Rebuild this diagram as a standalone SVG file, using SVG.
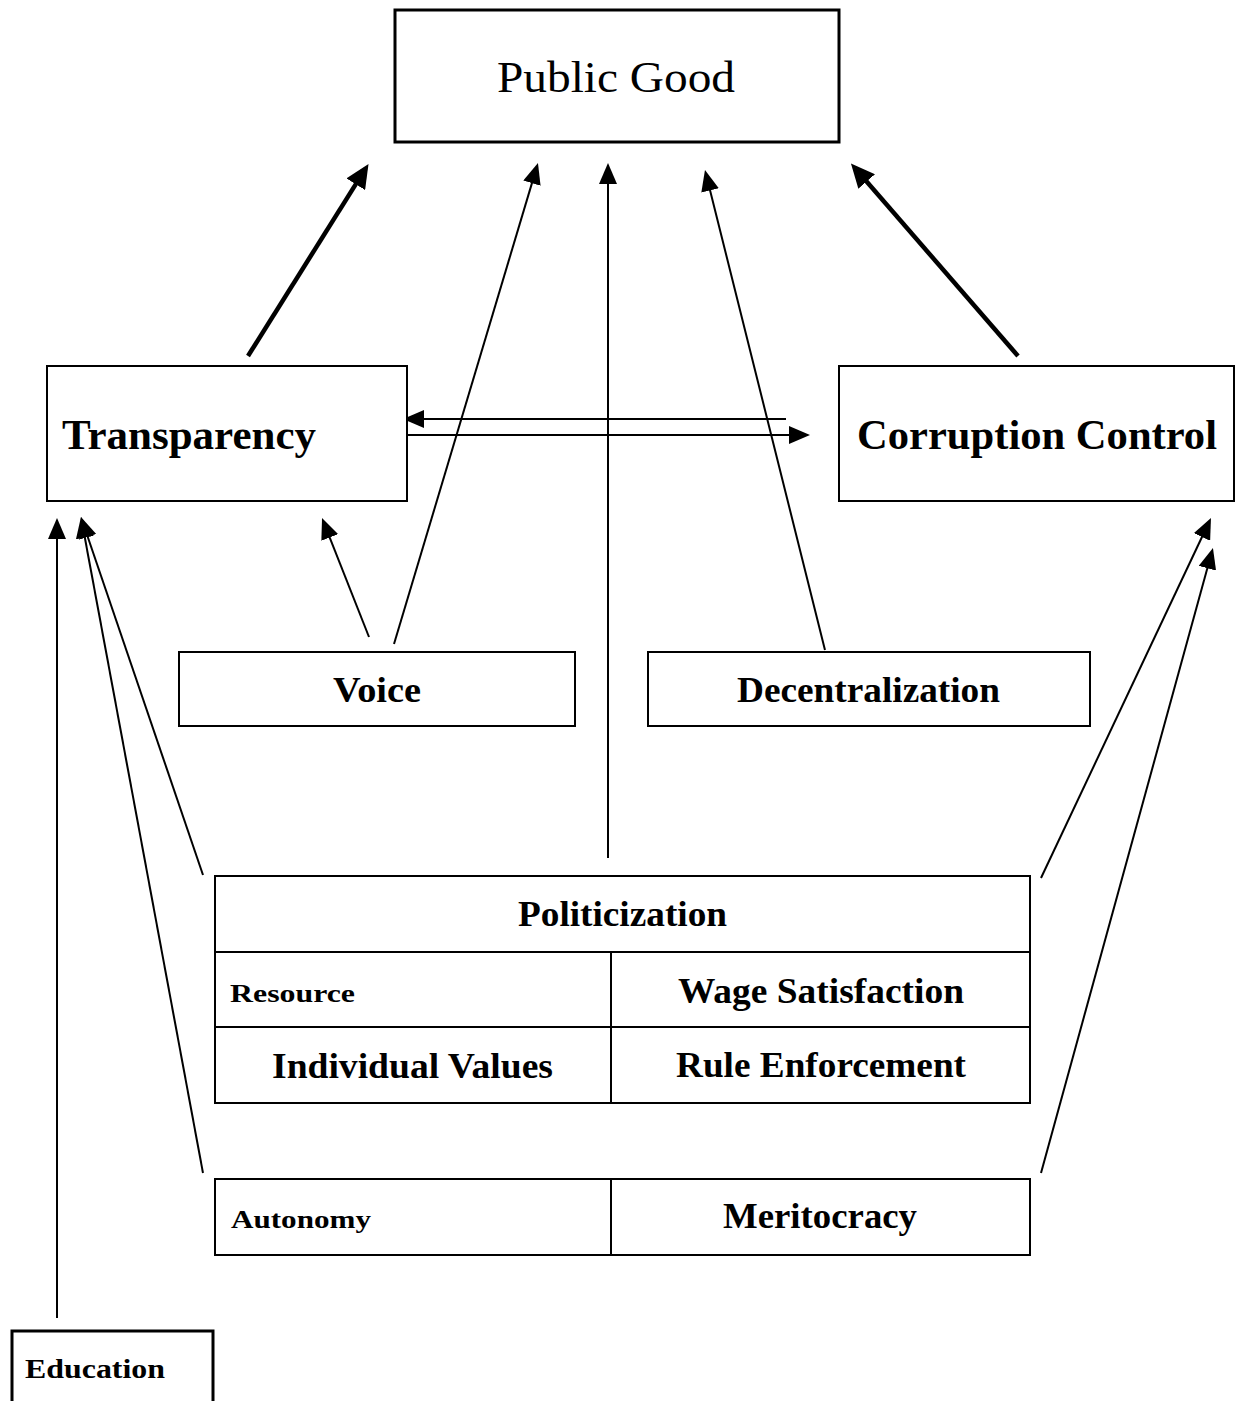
<svg xmlns="http://www.w3.org/2000/svg" width="1236" height="1401" viewBox="0 0 1236 1401">
<style>
.box{fill:#fff;stroke:#000;stroke-width:2}
.thick{stroke-width:3}
.t{font-family:"Liberation Serif","Times New Roman",serif;fill:#000;font-weight:bold}
.reg{font-weight:normal}
.ln{stroke:#000;stroke-width:2;fill:none;marker-end:url(#ah)}
.lnb{stroke:#000;stroke-width:4.5;fill:none;marker-end:url(#ahb)}
</style>
<defs>
<marker id="ah" markerUnits="userSpaceOnUse" viewBox="0 0 21 18" refX="11" refY="9" markerWidth="21" markerHeight="18" orient="auto"><path d="M0,0 L21,9 L0,18 z" fill="#000"/></marker>
<marker id="ahb" markerUnits="userSpaceOnUse" viewBox="0 0 24 22" refX="14" refY="11" markerWidth="24" markerHeight="22" orient="auto"><path d="M0,0 L24,11 L0,22 z" fill="#000"/></marker>
</defs>
<rect width="1236" height="1401" fill="#fff"/>
<g id="connectors">
<line class="lnb" x1="248" y1="356" x2="363.2" y2="172.4"/>
<line class="ln" x1="394" y1="644" x2="535.1" y2="172.6"/>
<line class="ln" x1="608" y1="858" x2="608" y2="173"/>
<line class="ln" x1="825" y1="650" x2="707.4" y2="179.7"/>
<line class="lnb" x1="1018" y1="356" x2="857.5" y2="171"/>
<line class="ln" x1="786" y1="419" x2="413" y2="419"/>
<line class="ln" x1="401" y1="435" x2="800" y2="435"/>
<line class="ln" x1="369" y1="637" x2="325.7" y2="527.3"/>
<line class="ln" x1="203" y1="875" x2="84.2" y2="526.5"/>
<line class="ln" x1="203" y1="1173" x2="82.8" y2="526.8"/>
<line class="ln" x1="57" y1="1318" x2="57" y2="528"/>
<line class="ln" x1="1041" y1="878" x2="1206.7" y2="527"/>
<line class="ln" x1="1041" y1="1173" x2="1210.3" y2="557.6"/>
</g>
<g id="public-good">
<rect class="box thick" x="395" y="10" width="444" height="132"/>
<text class="t reg" x="616" y="92" font-size="44" text-anchor="middle" textLength="238" lengthAdjust="spacingAndGlyphs">Public Good</text>
</g>
<g id="transparency">
<rect class="box" x="47" y="366" width="360" height="135"/>
<text class="t" x="62" y="449" font-size="43" textLength="254" lengthAdjust="spacingAndGlyphs">Transparency</text>
</g>
<g id="corruption-control">
<rect class="box" x="839" y="366" width="395" height="135"/>
<text class="t" x="857" y="449" font-size="43" textLength="360" lengthAdjust="spacingAndGlyphs">Corruption Control</text>
</g>
<g id="voice">
<rect class="box" x="179" y="652" width="396" height="74"/>
<text class="t" x="333" y="702" font-size="35" textLength="88" lengthAdjust="spacingAndGlyphs">Voice</text>
</g>
<g id="decentralization">
<rect class="box" x="648" y="652" width="442" height="74"/>
<text class="t" x="737" y="702" font-size="35" textLength="263" lengthAdjust="spacingAndGlyphs">Decentralization</text>
</g>
<g id="politicization-table">
<rect class="box" x="215" y="876" width="815" height="227"/>
<line x1="215" y1="952" x2="1030" y2="952" stroke="#000" stroke-width="2"/>
<line x1="215" y1="1027" x2="1030" y2="1027" stroke="#000" stroke-width="2"/>
<line x1="611" y1="952" x2="611" y2="1103" stroke="#000" stroke-width="2"/>
<text class="t" x="518" y="926" font-size="35" textLength="209" lengthAdjust="spacingAndGlyphs">Politicization</text>
<text class="t" x="230" y="1002" font-size="25" textLength="125" lengthAdjust="spacingAndGlyphs">Resource</text>
<text class="t" x="678" y="1003" font-size="35" textLength="286" lengthAdjust="spacingAndGlyphs">Wage Satisfaction</text>
<text class="t" x="272" y="1078" font-size="35" textLength="281" lengthAdjust="spacingAndGlyphs">Individual Values</text>
<text class="t" x="676" y="1077" font-size="35" textLength="290" lengthAdjust="spacingAndGlyphs">Rule Enforcement</text>
</g>
<g id="autonomy-table">
<rect class="box" x="215" y="1179" width="815" height="76"/>
<line x1="611" y1="1179" x2="611" y2="1255" stroke="#000" stroke-width="2"/>
<text class="t" x="231" y="1228" font-size="25" textLength="140" lengthAdjust="spacingAndGlyphs">Autonomy</text>
<text class="t" x="723" y="1228" font-size="35" textLength="194" lengthAdjust="spacingAndGlyphs">Meritocracy</text>
</g>
<g id="education">
<rect class="box thick" x="12" y="1331" width="201" height="100"/>
<text class="t" x="25" y="1378" font-size="27" textLength="140" lengthAdjust="spacingAndGlyphs">Education</text>
</g>
</svg>
